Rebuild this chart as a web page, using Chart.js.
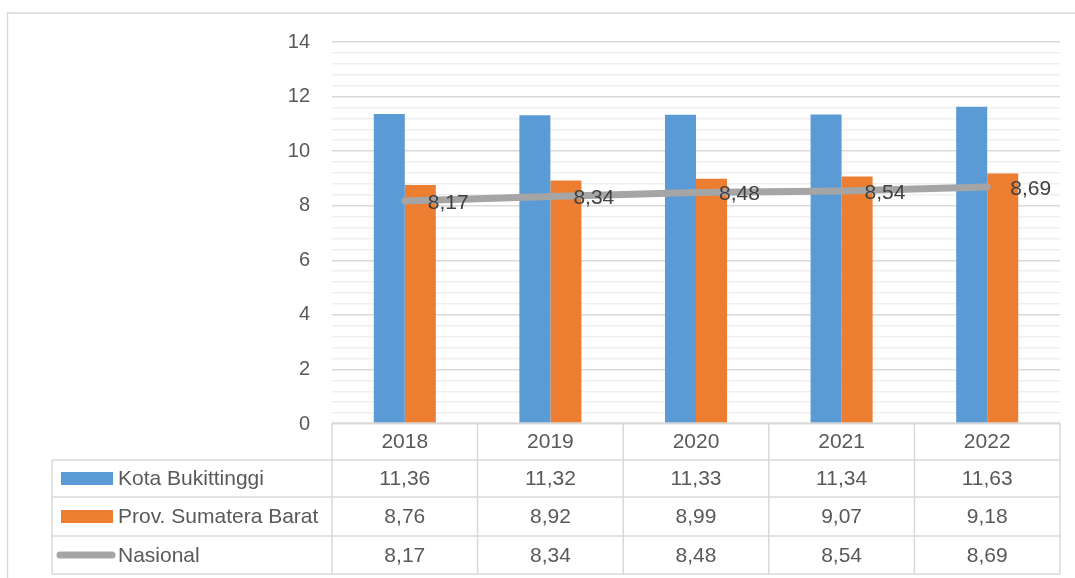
<!DOCTYPE html>
<html>
<head>
<meta charset="utf-8">
<script src="https://cdn.jsdelivr.net/npm/chart.js@4.4.1/dist/chart.umd.min.js"></script>
<style>
  html, body { margin: 0; padding: 0; background: #fff; }
  #wrap { width: 1075px; height: 578px; position: relative; }
</style>
</head>
<body>
<div id="wrap"><canvas id="chart" width="1075" height="578"></canvas></div>
<script>
// Data
const years = ['2018', '2019', '2020', '2021', '2022'];
const kotaBukittinggi = [11.36, 11.32, 11.33, 11.34, 11.63];
const provSumbar = [8.76, 8.92, 8.99, 9.07, 9.18];
const nasional = [8.17, 8.34, 8.48, 8.54, 8.69];
const seriesNames = ['Kota Bukittinggi', 'Prov. Sumatera Barat', 'Nasional'];

const FONT = '"Liberation Sans", Arial, sans-serif';
const GRID_MAJOR = '#d9d9d9';
const GRID_MINOR = '#efefef';

const fmt = v => v.toFixed(2).replace('.', ',');

function isMajor(v) {
    return Math.abs(v / 2 - Math.round(v / 2)) < 1e-6;
}

// Labels for the line, drawn to the right of each point
const lineLabels = {
    id: 'lineLabels',
    afterDatasetsDraw(chart) {
        const ctx = chart.ctx;
        const meta = chart.getDatasetMeta(2);
        ctx.save();
        ctx.font = '21px ' + FONT;
        ctx.fillStyle = '#404040';
        ctx.textAlign = 'left';
        ctx.textBaseline = 'middle';
        meta.data.forEach((pt, i) => {
            ctx.fillText(fmt(nasional[i]), pt.x + 23, pt.y + 2);
        });
        ctx.restore();
    }
};

// Data table under the plot, plus outer frame
const dataTable = {
    id: 'dataTable',
    afterDraw(chart) {
        const ctx = chart.ctx;
        const x = chart.scales.x;
        const area = chart.chartArea;
        const colW = (area.right - area.left) / years.length;
        const left = 52;
        const rows = [area.bottom - 1, 460, 497, 536, 574];

        ctx.save();
        ctx.strokeStyle = GRID_MAJOR;
        ctx.lineWidth = 1.5;

        // frame
        ctx.beginPath();
        ctx.moveTo(1075, 13);
        ctx.lineTo(7.5, 13);
        ctx.lineTo(7.5, 578);
        ctx.stroke();

        // horizontal lines
        ctx.beginPath();
        ctx.moveTo(area.left, rows[0]);
        ctx.lineTo(area.right, rows[0]);
        for (let r = 1; r < rows.length; r++) {
            ctx.moveTo(left, rows[r]);
            ctx.lineTo(area.right, rows[r]);
        }
        // vertical lines
        ctx.moveTo(left, rows[1]);
        ctx.lineTo(left, rows[4]);
        for (let c = 0; c <= years.length; c++) {
            const cx = area.left + c * colW;
            ctx.moveTo(cx, rows[0]);
            ctx.lineTo(cx, rows[4]);
        }
        ctx.stroke();

        // texts
        ctx.font = '21px ' + FONT;
        ctx.fillStyle = '#595959';
        ctx.textBaseline = 'middle';
        ctx.textAlign = 'center';
        const values = [kotaBukittinggi, provSumbar, nasional];
        years.forEach((yr, i) => {
            const cx = x.getPixelForValue(i);
            ctx.fillText(yr, cx, (rows[0] + rows[1]) / 2 + 1);
            values.forEach((arr, r) => {
                ctx.fillText(fmt(arr[i]), cx, (rows[r + 1] + rows[r + 2]) / 2 + 1);
            });
        });

        // legend keys and names
        ctx.textAlign = 'left';
        for (let r = 0; r < 3; r++) {
            const cy = (rows[r + 1] + rows[r + 2]) / 2;
            if (r < 2) {
                ctx.fillStyle = chart.data.datasets[r].backgroundColor;
                ctx.fillRect(61, cy - 6.5, 52, 13);
            } else {
                ctx.strokeStyle = chart.data.datasets[2].borderColor;
                ctx.lineWidth = 7;
                ctx.lineCap = 'round';
                ctx.beginPath();
                ctx.moveTo(60, cy);
                ctx.lineTo(112, cy);
                ctx.stroke();
            }
            ctx.fillStyle = '#595959';
            ctx.fillText(seriesNames[r], 118, cy + 1);
        }
        ctx.restore();
    }
};

new Chart(document.getElementById('chart'), {
    data: {
        labels: years,
        datasets: [
            {
                type: 'bar',
                label: seriesNames[0],
                data: kotaBukittinggi,
                backgroundColor: '#5b9bd5',
                order: 2
            },
            {
                type: 'bar',
                label: seriesNames[1],
                data: provSumbar,
                backgroundColor: '#ed7d31',
                order: 2
            },
            {
                type: 'line',
                label: seriesNames[2],
                data: nasional,
                borderColor: '#a5a5a5',
                backgroundColor: '#a5a5a5',
                borderWidth: 7,
                borderCapStyle: 'round',
                pointRadius: 0,
                tension: 0,
                order: 1
            }
        ]
    },
    options: {
        responsive: false,
        animation: false,
        datasets: {
            bar: { categoryPercentage: 0.426, barPercentage: 1 }
        },
        layout: { padding: { top: 42, left: 0, right: 15, bottom: 0 } },
        plugins: {
            legend: { display: false },
            tooltip: { enabled: false }
        },
        scales: {
            x: {
                grid: { display: false },
                border: { display: false },
                ticks: { display: false },
                afterFit(scale) { scale.height = 154; }
            },
            y: {
                min: 0,
                max: 14,
                border: { display: false },
                grid: {
                    drawTicks: false,
                    lineWidth: 1.5,
                    color: ctx => isMajor(ctx.tick.value) ? GRID_MAJOR : GRID_MINOR
                },
                ticks: {
                    stepSize: 0.4,
                    maxTicksLimit: 100,
                    autoSkip: false,
                    padding: 22,
                    color: '#595959',
                    font: { family: FONT, size: 20 },
                    callback: v => isMajor(v) ? String(Math.round(v)) : ''
                },
                afterFit(scale) { scale.width = 332; }
            }
        }
    },
    plugins: [lineLabels, dataTable]
});
</script>
</body>
</html>
